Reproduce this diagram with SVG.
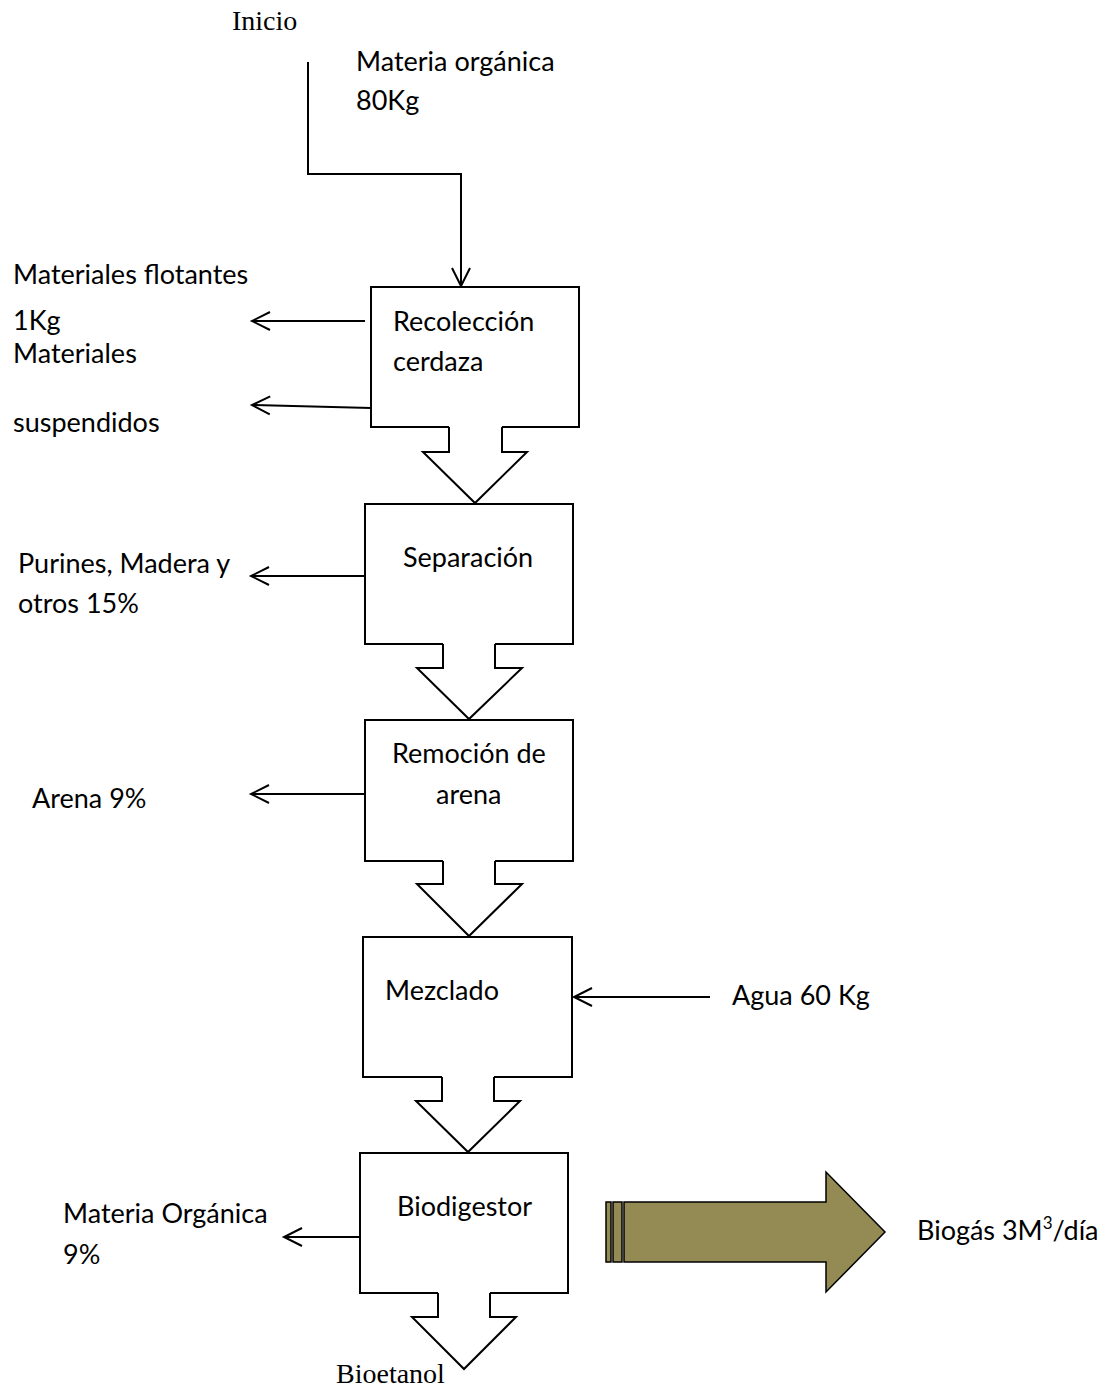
<svg xmlns="http://www.w3.org/2000/svg" width="1116" height="1390" viewBox="0 0 1116 1390">
<style>
.t{font-family:Lato,"Open Sans","Liberation Sans",sans-serif;font-size:27px;fill:#000}
.s{font-family:"Liberation Serif","Times New Roman",serif;font-size:28px;fill:#000}
.b{fill:none;stroke:#000;stroke-width:2}
.c{fill:none;stroke:#000;stroke-width:2}
</style>
<defs>
<marker id="ah" markerUnits="userSpaceOnUse" markerWidth="24" markerHeight="24" viewBox="-20 -12 24 24" refX="0" refY="0" orient="auto" overflow="visible">
<path d="M-18,-9 L0,0 L-18,9" fill="none" stroke="#000" stroke-width="2"/>
</marker>
</defs>
<rect width="1116" height="1390" fill="#fff"/>

<g id="inicio"><text class="s" x="232" y="30">Inicio</text></g>
<g id="materia-organica"><text class="t" x="356" y="71">Materia orgánica</text><text class="t" x="356" y="110">80Kg</text></g>

<g id="recoleccion">
<path class="b" d="M449,427 H371 V287 H579 V427 H502"/>
<text class="t" x="393" y="331">Recolección</text><text class="t" x="393" y="371">cerdaza</text>
</g>
<g id="flotantes"><text class="t" x="13" y="284">Materiales flotantes</text><text class="t" x="13" y="330">1Kg</text></g>
<g id="suspendidos"><text class="t" x="13" y="363">Materiales</text><text class="t" x="13" y="432">suspendidos</text></g>

<g id="separacion">
<path class="b" d="M443,644 H365 V504 H573 V644 H495"/>
<text class="t" x="403" y="567">Separación</text>
</g>
<g id="purines"><text class="t" x="18" y="573">Purines, Madera y</text><text class="t" x="18" y="613">otros 15%</text></g>

<g id="remocion">
<path class="b" d="M443,861 H365 V720 H573 V861 H495"/>
<text class="t" x="392" y="763">Remoción de</text><text class="t" x="436" y="804">arena</text>
</g>
<g id="arena"><text class="t" x="32" y="808">Arena 9%</text></g>

<g id="mezclado">
<path class="b" d="M442,1077 H363 V937 H572 V1077 H494"/>
<text class="t" x="385" y="1000">Mezclado</text>
</g>
<g id="agua"><text class="t" x="732" y="1005">Agua 60 Kg</text></g>

<g id="biodigestor">
<path class="b" d="M438,1293 H360 V1153 H568 V1293 H490"/>
<text class="t" x="397" y="1216">Biodigestor</text>
</g>
<g id="materia-organica-9"><text class="t" x="63" y="1223">Materia Orgánica</text><text class="t" x="63" y="1264">9%</text></g>

<g id="bioetanol"><text class="s" x="336" y="1383">Bioetanol</text></g>

<g id="biogas">
<rect x="606" y="1202" width="5" height="60" fill="#948A54" stroke="#000" stroke-width="1.5"/>
<rect x="613" y="1202" width="9" height="60" fill="#948A54" stroke="#000" stroke-width="1.5"/>
<path d="M624,1202 H826 V1172 L885,1232 L826,1292 V1262 H624 Z" fill="#948A54" stroke="#000" stroke-width="1.5"/>
<text class="t" x="917" y="1240">Biogás 3M<tspan font-size="17" dy="-11">3</tspan><tspan dy="11">/día</tspan></text>
</g>

<g id="connectors">
<path class="c" d="M308,62 V174 H461 V286" marker-end="url(#ah)"/>
<path class="c" d="M365,321 H252" marker-end="url(#ah)"/>
<path class="c" d="M371,408 L252,405" marker-end="url(#ah)"/>
<path class="c" d="M365,576 H251" marker-end="url(#ah)"/>
<path class="c" d="M365,794 H251" marker-end="url(#ah)"/>
<path class="c" d="M710,997 H574" marker-end="url(#ah)"/>
<path class="c" d="M360,1237 H284" marker-end="url(#ah)"/>
<path class="c" d="M449,427 V452 H423 L475,503 L527,452 H502 V427"/>
<path class="c" d="M443,644 V668 H417 L469,719 L522,668 H495 V644"/>
<path class="c" d="M443,861 V884 H417 L469,936 L522,884 H495 V861"/>
<path class="c" d="M442,1077 V1101 H416 L468,1152 L520,1101 H494 V1077"/>
<path class="c" d="M438,1293 V1317 H412 L464,1369 L516,1317 H490 V1293"/>
</g>
</svg>
